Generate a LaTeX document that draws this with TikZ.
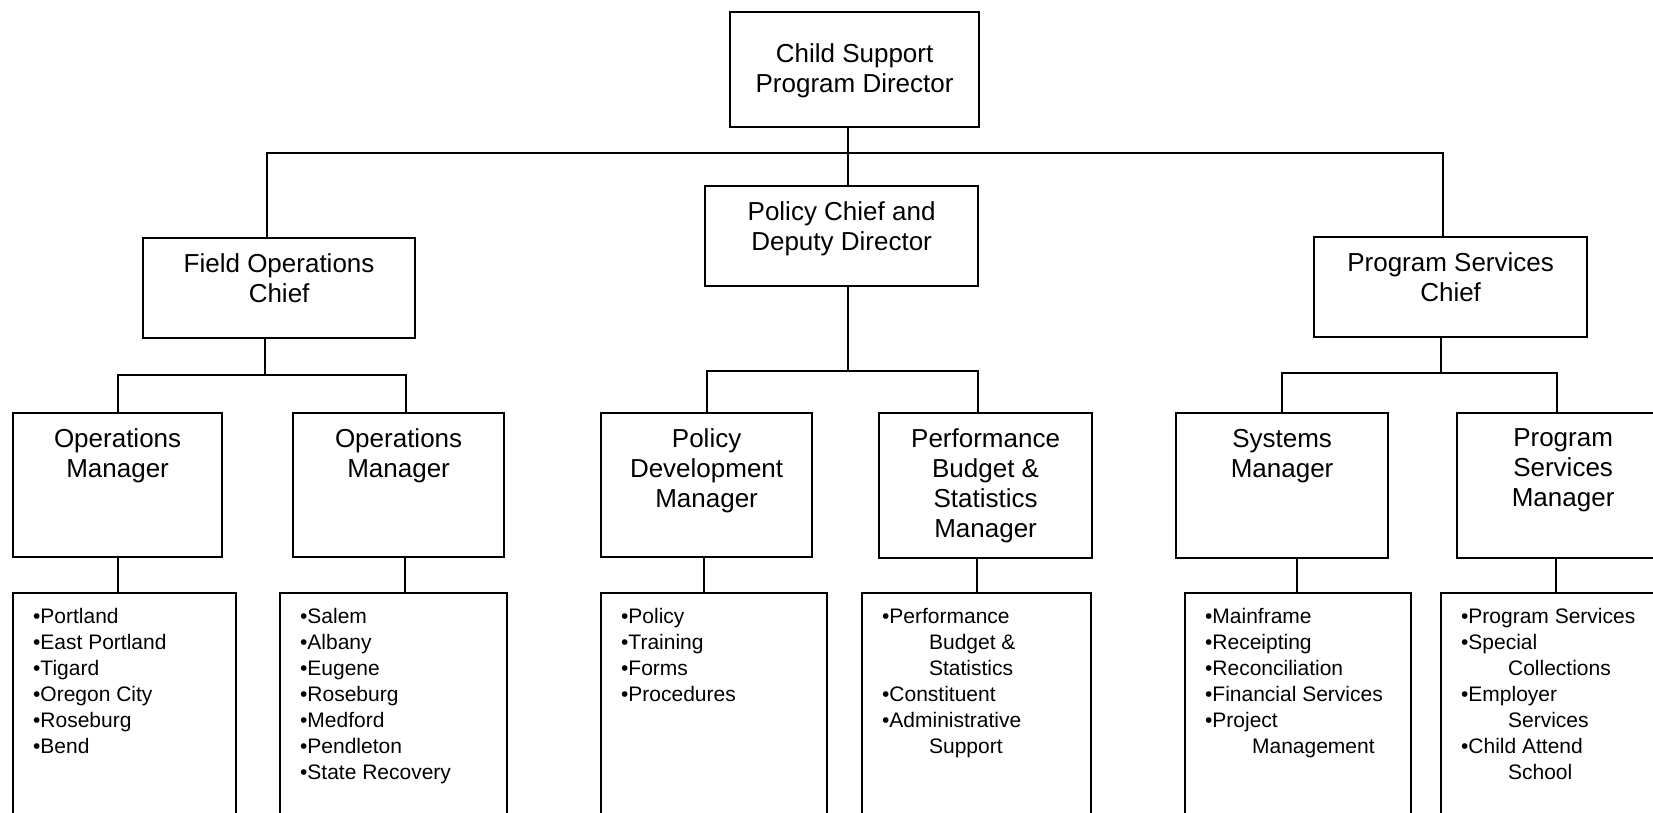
\documentclass[tikz,border=0pt]{standalone}
\usepackage{fontspec}
\setmainfont{Liberation Sans}
\newcommand{\BoxText}[4]{\begin{minipage}[c][#2pt][t]{#1pt}\centering\vspace*{#3pt}#4\end{minipage}}
\newcommand{\ListText}[3]{\begin{minipage}[c][#2pt][t]{#1pt}\raggedright\leftskip=20pt\vspace*{15.5pt}#3\end{minipage}}
\newcommand{\ListIndent}{\hspace*{47pt}}

\begin{document}
\begin{tikzpicture}[x=1pt,y=-1pt]
	\tikzset{
	  BoxStyle/.style = { draw, line width=2.2pt, inner sep=0pt, anchor=north west,
	                      font = \fontsize{26}{30}\selectfont },
	  ListStyle/.style = { BoxStyle, font = \fontsize{21}{26}\selectfont },
	  EdgeStyle/.style = { line width=2.2pt } }
	\useasboundingbox (0,0) rectangle (1653,812);
	\clip (0,0) rectangle (1653,812);
	\node[BoxStyle] (director) at (729,11) {\BoxText{249}{115}{32}{Child Support\\Program Director}};
	\node[BoxStyle] (deputy) at (704,185) {\BoxText{273}{100}{16}{Policy Chief and\\Deputy Director}};
	\node[BoxStyle] (field) at (142,237) {\BoxText{272}{100}{16}{Field Operations\\Chief}};
	\node[BoxStyle] (progchief) at (1313,236) {\BoxText{273}{100}{16}{Program Services\\Chief}};
	\node[BoxStyle] (ops1) at (12,412) {\BoxText{209}{144}{16}{Operations\\Manager}};
	\node[BoxStyle] (ops2) at (292,412) {\BoxText{211}{144}{16}{Operations\\Manager}};
	\node[BoxStyle] (poldev) at (600,412) {\BoxText{211}{144}{16}{Policy\\Development\\Manager}};
	\node[BoxStyle] (perf) at (878,412) {\BoxText{213}{145}{16}{Performance\\Budget \&\\Statistics\\Manager}};
	\node[BoxStyle] (systems) at (1175,412) {\BoxText{212}{145}{16}{Systems\\Manager}};
	\node[BoxStyle] (progmgr) at (1456,412) {\BoxText{212}{145}{16}{Program\\Services\\Manager}};
	\node[ListStyle] (list1) at (12,592) {\ListText{223}{240}{•Portland\\•East Portland\\•Tigard\\•Oregon City\\•Roseburg\\•Bend}};
	\node[ListStyle] (list2) at (279,592) {\ListText{227}{240}{•Salem\\•Albany\\•Eugene\\•Roseburg\\•Medford\\•Pendleton\\•State Recovery}};
	\node[ListStyle] (list3) at (600,592) {\ListText{226}{240}{•Policy\\•Training\\•Forms\\•Procedures}};
	\node[ListStyle] (list4) at (861,592) {\ListText{229}{240}{•Performance\\\ListIndent Budget \&\\\ListIndent Statistics\\•Constituent\\•Administrative\\\ListIndent Support}};
	\node[ListStyle] (list5) at (1184,592) {\ListText{226}{240}{•Mainframe\\•Receipting\\•Reconciliation\\•Financial Services\\•Project\\\ListIndent Management}};
	\node[ListStyle] (list6) at (1440,592) {\ListText{240}{240}{•Program Services\\•Special\\\ListIndent Collections\\•Employer\\\ListIndent Services\\•Child Attend\\\ListIndent School}};
	\coordinate (trunk) at (848,153);
	\coordinate (fieldbus) at (265,375);
	\coordinate (deputybus) at (848,371);
	\coordinate (progbus) at (1441,373);
	\draw[EdgeStyle] (director.south -| trunk) -- (deputy.north -| trunk);
	\draw[EdgeStyle] ([xshift=-12pt]field.north) |- (trunk) -| ([xshift=-8pt]progchief.north);
	\draw[EdgeStyle] (field.south -| fieldbus) -- (fieldbus);
	\draw[EdgeStyle] (ops1.north) |- (fieldbus) -| ([xshift=7.5pt]ops2.north);
	\draw[EdgeStyle] (deputy.south -| deputybus) -- (deputybus);
	\draw[EdgeStyle] (poldev.north) |- (deputybus) -| ([xshift=-8pt]perf.north);
	\draw[EdgeStyle] (progchief.south -| progbus) -- (progbus);
	\draw[EdgeStyle] (systems.north) |- (progbus) -| ([xshift=-6pt]progmgr.north);
	\draw[EdgeStyle] (ops1.south) -- (ops1.south |- list1.north);
	\draw[EdgeStyle] ([xshift=6.5pt]ops2.south) -- ([xshift=6.5pt]ops2.south |- list2.north);
	\draw[EdgeStyle] ([xshift=-2.5pt]poldev.south) -- ([xshift=-2.5pt]poldev.south |- list3.north);
	\draw[EdgeStyle] ([xshift=-8.5pt]perf.south) -- ([xshift=-8.5pt]perf.south |- list4.north);
	\draw[EdgeStyle] ([xshift=15pt]systems.south) -- ([xshift=15pt]systems.south |- list5.north);
	\draw[EdgeStyle] ([xshift=-7pt]progmgr.south) -- ([xshift=-7pt]progmgr.south |- list6.north);
\end{tikzpicture}
\end{document}
